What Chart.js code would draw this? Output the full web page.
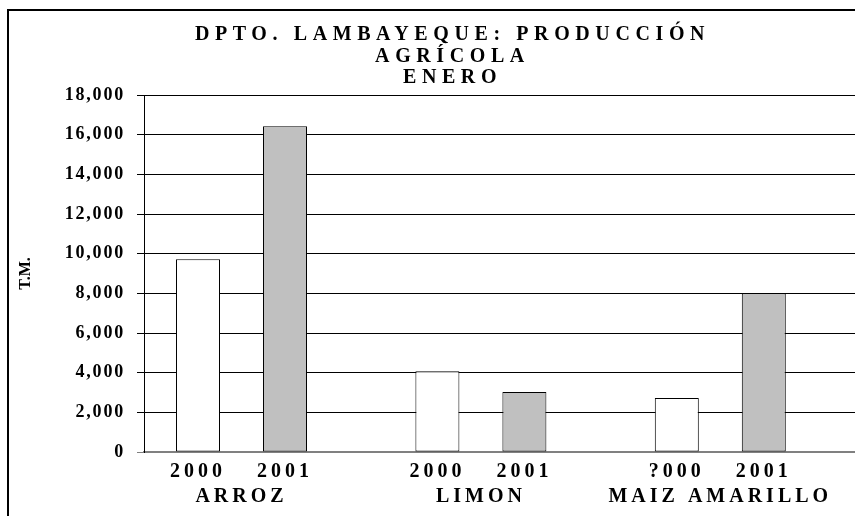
<!DOCTYPE html>
<html><head><meta charset="utf-8">
<script src="https://cdn.jsdelivr.net/npm/chart.js@4.4.1/dist/chart.umd.min.js"></script>
<style>html,body{margin:0;padding:0;background:#fff}canvas{display:block}</style>
</head><body>
<canvas id="c" width="855" height="516"></canvas>
<script>
// ---- data ----
const titleLines = ['DPTO. LAMBAYEQUE: PRODUCCIÓN', 'AGRÍCOLA', 'ENERO'];
const categories = ['ARROZ', 'LIMON', 'MAIZ AMARILLO'];
const seriesNames = ['2000', '2001'];
const values2000 = [9720, 4070, 2720];
const values2001 = [16420, 3030, 8000];
const yearTickLabels = ['2000', '2001', '2000', '2001', '?000', '2001'];
const yAxisTitle = 'T.M.';

// ---- style / layout ----
const FONT = "'Liberation Serif', 'Times New Roman', Times, serif";
const CAT_PCT = 0.7268, BAR_PCT = 0.5057;
const X_MIN = -0.4073, X_MAX = 2.5627;
const TITLE_SHIFT = 25;

function wrap(obj, method, sp, dx) {
  if (!obj || obj['_w_' + method]) return;
  const orig = obj[method];
  obj['_w_' + method] = true;
  obj[method] = function (...args) {
    const ctx = this.ctx;
    ctx.save();
    ctx.letterSpacing = sp;
    if (dx) ctx.translate(dx, 0);
    const r = orig.apply(this, args);
    ctx.restore();
    return r;
  };
}

const framePlugin = {
  id: 'frame',
  beforeDraw(chart) {
    const c = chart.ctx;
    c.save();
    c.fillStyle = '#fff';
    c.fillRect(0, 0, chart.width, chart.height);
    c.strokeStyle = '#000';
    c.lineWidth = 2;
    c.strokeRect(8, 10, chart.width + 20, chart.height + 20);
    c.restore();
    wrap(chart.titleBlock, 'draw', '5.6px', TITLE_SHIFT);
    wrap(chart.scales.xLabels, 'drawLabels', '4px');
    wrap(chart.scales.y, 'drawLabels', '1.8px');
    wrap(chart.scales.y, 'drawTitle', '0px');
  }
};

new Chart(document.getElementById('c'), {
  type: 'bar',
  data: {
    labels: categories.map((c, i) => i),
    datasets: [
      { label: seriesNames[0], data: values2000, xAxisID: 'x', yAxisID: 'y',
        backgroundColor: '#FFFFFF', borderColor: '#000', borderWidth: 1, borderSkipped: false },
      { label: seriesNames[1], data: values2001, xAxisID: 'x', yAxisID: 'y',
        backgroundColor: '#C0C0C0', borderColor: '#000', borderWidth: 1, borderSkipped: false }
    ]
  },
  options: {
    responsive: false,
    animation: false,
    devicePixelRatio: 1,
    categoryPercentage: CAT_PCT,
    barPercentage: BAR_PCT,
    layout: { padding: 0 },
    plugins: {
      legend: { display: false },
      tooltip: { enabled: false },
      title: {
        display: true,
        text: titleLines,
        color: '#000',
        font: { family: FONT, size: 20, weight: 'bold', lineHeight: 1.075 },
        padding: { top: 24.25, bottom: 6.25 }
      }
    },
    scales: {
      x: {
        type: 'linear', position: 'bottom', offset: false, min: X_MIN, max: X_MAX,
        afterBuildTicks: s => { s.ticks = categories.map((c, i) => ({ value: i })); },
        afterFit: s => { s.height = 0; },
        ticks: { display: false },
        grid: { display: false, drawTicks: false, offset: false },
        border: { display: false }
      },
      xLabels: {
        type: 'linear', position: 'bottom', offset: false, min: X_MIN, max: X_MAX,
        afterBuildTicks: s => {
          const q = CAT_PCT / 4;
          const t = [];
          categories.forEach((c, i) => {
            t.push({ value: i - q, text: yearTickLabels[2 * i] });
            t.push({ value: i, text: ['', c] });
            t.push({ value: i + q, text: yearTickLabels[2 * i + 1] });
          });
          s.ticks = t;
        },
        afterFit: s => { s.height = 64; },
        grid: { display: false, drawTicks: false, offset: false },
        border: { display: true, color: '#808080', width: 2 },
        ticks: {
          autoSkip: false, maxRotation: 0, minRotation: 0, padding: 7.5, color: '#000',
          font: { family: FONT, size: 20, weight: 'bold', lineHeight: 1.25 },
          callback: (v, i, ticks) => ticks[i].text
        }
      },
      y: {
        min: 0, max: 18000,
        afterFit: s => { s.width = 144; },
        ticks: {
          stepSize: 2000, padding: 12, color: '#000',
          font: { family: FONT, size: 18, weight: 'bold' },
          callback: v => Number(v).toLocaleString('en-US')
        },
        grid: {
          color: c => (c.tick && c.tick.value === 0 ? '#808080' : '#000'),
          lineWidth: 1, tickLength: 7, drawTicks: true
        },
        border: { display: true, color: '#000', width: 1 },
        title: {
          display: true, text: yAxisTitle, color: '#000',
          font: { family: FONT, size: 16, weight: 'bold' },
          padding: { top: 16, bottom: 0 }
        }
      }
    }
  },
  plugins: [framePlugin]
});
</script>
</body></html>
